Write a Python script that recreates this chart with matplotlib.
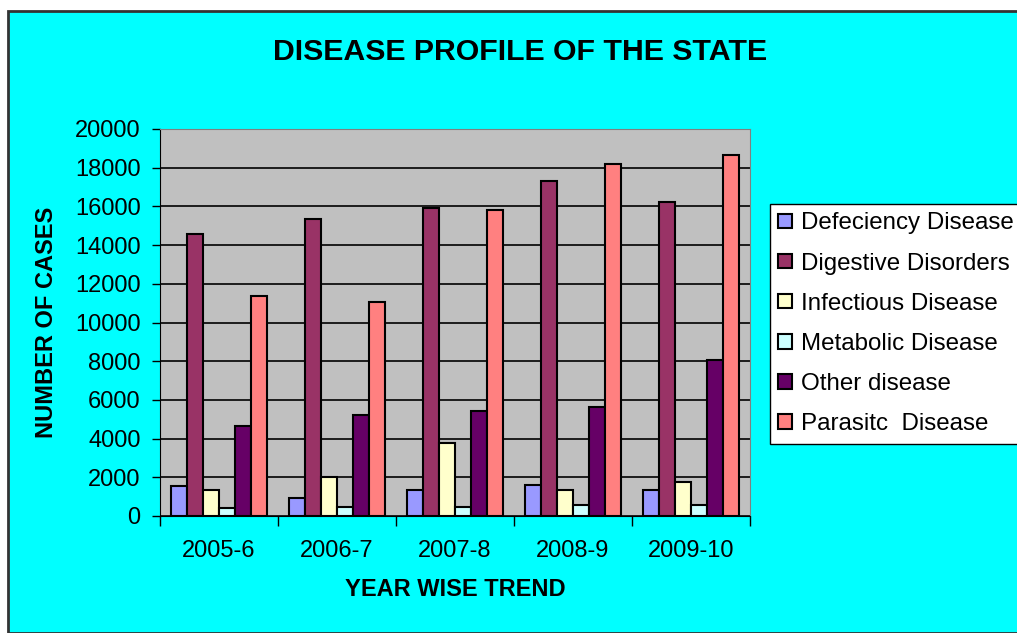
import numpy as np
import matplotlib.pyplot as plt
from matplotlib.patches import Rectangle

plt.rcParams['font.family'] = ['Liberation Sans', 'DejaVu Sans']

years = ['2005-6', '2006-7', '2007-8', '2008-9', '2009-10']
deficiency = [1550, 950, 1350, 1620, 1350]
digestive = [14570, 15350, 15920, 17300, 16230]
infectious = [1350, 2030, 3780, 1350, 1740]
metabolic = [400, 480, 480, 570, 570]
other = [4670, 5240, 5430, 5640, 8070]
parasitic = [11360, 11070, 15830, 18170, 18660]

series_names = ['Defeciency Disease', 'Digestive Disorders', 'Infectious Disease',
                'Metabolic Disease', 'Other disease', 'Parasitc  Disease']
series = [deficiency, digestive, infectious, metabolic, other, parasitic]
colors = ['#9999FF', '#993366', '#FFFFCC', '#CCFFFF', '#660066', '#FF8080']

fig = plt.figure(figsize=(10.17, 6.33), dpi=100)
fig.patch.set_facecolor('white')
# cyan chart area with border
fig.patches.append(Rectangle((8 / 1017, 0), 1.0, 1 - 11 / 633, transform=fig.transFigure,
                             facecolor='#00FFFF', edgecolor='#333333', linewidth=2, zorder=-10))

ax = fig.add_axes([160 / 1017, 1 - 516 / 633, 590 / 1017, 387 / 633])
ax.set_facecolor('#C0C0C0')

x = np.arange(len(years))
bw = 0.137
for i, (vals, name, c) in enumerate(zip(series, series_names, colors)):
    ax.bar(x + (i - 2.5) * bw, vals, bw, color=c, edgecolor='black', linewidth=1.5,
           label=name, zorder=3)

ax.set_xlim(-0.5, len(years) - 0.5)
ax.set_ylim(0, 20000)
ax.set_yticks(np.arange(0, 20001, 2000))
ax.yaxis.grid(True, color='black', linewidth=1.2, zorder=1)
ax.set_axisbelow(True)
ax.set_xticks(np.arange(-0.5, len(years), 1.0), minor=False)
ax.set_xticklabels([])
ax.set_xticks(x, minor=True)
ax.set_xticklabels(years, minor=True)
ax.tick_params(axis='x', which='minor', length=0, labelsize=17, pad=17)
ax.tick_params(axis='x', which='major', length=7, direction='out', width=1)
ax.tick_params(axis='y', labelsize=17, length=6, width=1, pad=8)
for s in ['top', 'right']:
    ax.spines[s].set_color('#808080')
for s in ['left', 'bottom']:
    ax.spines[s].set_color('black')

ax.set_xlabel('YEAR WISE TREND', fontsize=17, fontweight='bold', labelpad=12)
ax.set_ylabel('NUMBER OF CASES', fontsize=17, fontweight='bold', labelpad=12)
fig.text(520 / 1017, 1 - 52 / 633, 'DISEASE PROFILE OF THE STATE', ha='center', va='center',
         fontsize=21.8, fontweight='bold')

leg = fig.legend(loc='upper left', bbox_to_anchor=(770 / 1017, 1 - 204 / 633), fontsize=17.4,
                 frameon=True, fancybox=False, framealpha=1, handlelength=0.55, handleheight=0.55,
                 handletextpad=0.4, labelspacing=0.75, borderpad=0.35, borderaxespad=0)
leg.get_frame().set_edgecolor('black')
leg.get_frame().set_facecolor('white')
leg.get_frame().set_linewidth(1)

fig.savefig('out.png', dpi=100, facecolor=fig.get_facecolor())
